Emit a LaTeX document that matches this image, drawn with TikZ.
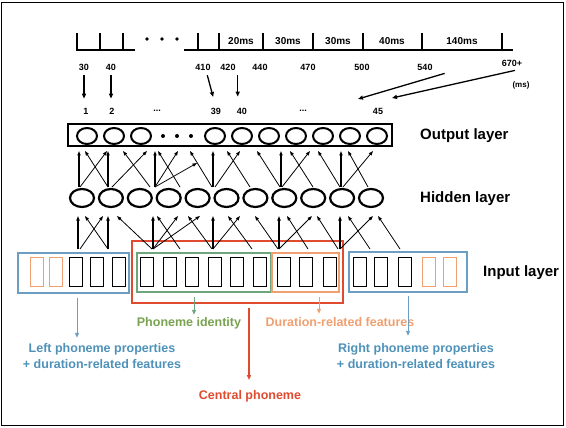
\documentclass[tikz,border=0pt]{standalone}
\usepackage{fontspec}
\setmainfont{Liberation Sans}
\usepackage{tikz}
\usetikzlibrary{positioning,calc,arrows.meta,shapes.geometric}

\definecolor{boxred}{HTML}{E04A2F}
\definecolor{boxblue}{HTML}{6C9EC4}
\definecolor{txtblue}{HTML}{4E91B9}
\definecolor{boxgreen}{HTML}{6EA57A}
\definecolor{txtgreen}{HTML}{79A251}
\definecolor{boxorange}{HTML}{F0A070}

\begin{document}
\begin{tikzpicture}[x=1pt,y=-1pt,
outnode/.style={ellipse, draw, line width=2pt, minimum width=20pt, minimum height=16pt, inner sep=0pt},
hidnode/.style={ellipse, draw, line width=2.2pt, minimum width=24pt, minimum height=18pt, inner sep=0pt},
featbox/.style={rectangle, draw=#1, line width=0.9pt, minimum width=13pt, minimum height=29pt, inner sep=0pt},
featbox/.default=black,
grpbox/.style={rectangle, draw=#1, line width=1.6pt, inner sep=0pt},
wire/.style={-{Triangle[length=4.5pt,width=3.2pt]}, line width=0.8pt},
numarrow/.style={-{Triangle[length=5pt,width=4pt]}, line width=1.3pt},
notearrow/.style={-{Triangle[length=5pt,width=4pt]}, line width=1pt, draw=#1, fill=#1},
tickline/.style={line width=2pt},
layerlbl/.style={font=\fontsize{15}{17}\selectfont\bfseries, anchor=west, inner sep=0pt},
numlbl/.style={font=\fontsize{9}{10}\selectfont\bfseries, inner sep=0pt},
msname/.style={font=\fontsize{10}{11}\selectfont\bfseries, inner sep=0pt},
notelbl/.style={font=\fontsize{12.5}{16}\selectfont\bfseries, text=#1, align=center, inner sep=0pt},
]
\useasboundingbox (0,0) rectangle (566,428);
\draw[line width=1pt] (1,3) rectangle (563,425);

%Time axis
\draw[tickline] (76,50) -- (135,50);
\draw[tickline] (184,50) -- (513,50);
\foreach \x in {77,100,123,198,219,263,313,363,422,502}
  \draw[tickline] (\x,33) -- (\x,50);
\foreach \x in {147,162,177}
  \fill (\x,39) circle (1.8pt);
\node[msname] (d1) at (241,41) {20ms};
\node[msname] (d2) at (288,41) {30ms};
\node[msname] (d3) at (338,41) {30ms};
\node[msname] (d4) at (392,41) {40ms};
\node[msname] (d5) at (462,41) {140ms};

%Times
\node[numlbl] (n30)  at (84,67)  {30};
\node[numlbl] (n40)  at (111,67) {40};
\node[numlbl] (n410) at (203,67) {410};
\node[numlbl] (n420) at (228,67) {420};
\node[numlbl] (n440) at (260,67) {440};
\node[numlbl] (n470) at (308,67) {470};
\node[numlbl] (n500) at (362,67) {500};
\node[numlbl] (n540) at (425,67) {540};
\node[numlbl] (n670) at (512,63) {670+};
\node[font=\fontsize{8}{9}\selectfont\bfseries, inner sep=0pt] (unit) at (521,85) {(ms)};

%Output indices
\node[numlbl] (l1)  at (86,111)  {1};
\node[numlbl] (l2)  at (112,111) {2};
\node[numlbl] (la)  at (157,111) {...};
\node[numlbl] (l39) at (216,111) {39};
\node[numlbl] (l40) at (242,111) {40};
\node[numlbl] (lb)  at (303,111) {...};
\node[numlbl] (l45) at (378,111) {45};
\coordinate (tipa) at (358,99);
\coordinate (tipb) at (392,98);

\draw[numarrow, shorten <=5pt, shorten >=9pt] (n30.south) -- (n30.south |- l1.north);
\draw[numarrow, shorten <=5pt, shorten >=9pt] (n40.south) -- (n40.south |- l2.north);
\draw[numarrow, shorten <=5pt, shorten >=11pt] ([xshift=3pt]n410.south) -- (l39.north);
\draw[numarrow, shorten <=5pt, shorten >=11pt] ([xshift=2pt]n420.south east) -- ([xshift=2pt]n420.south east |- l40.north);
\draw[numarrow] ([xshift=12pt,yshift=-3pt]n540.south east) -- (tipa);
\draw[numarrow] ([xshift=3pt,yshift=-4pt]n670.south) -- (tipb);

%Output layer
\node[draw, line width=2.5pt, minimum width=324pt, minimum height=22pt, inner sep=0pt] (outbox) at (230,135) {};
\foreach \x [count=\i] in {87,114,141,215,242,269,296,323,350,377}
  \node[outnode] (o\i) at (\x,136) {};
\foreach \x in {163,177,191}
  \fill (\x,136) circle (2pt);
\node[layerlbl] (outlbl) at (420,136) {Output layer};

%Hidden layer
\foreach \i in {1,...,11}
  \node[hidnode] (h\i) at ({82+28.9*(\i-1)},198) {};
\node[layerlbl] (hidlbl) at (420,199) {Hidden layer};

%Input layer
\node[grpbox=boxblue, minimum width=111pt, minimum height=40pt] (leftgrp) at (73.5,273) {};
\node[grpbox=boxred, line width=2pt, minimum width=211pt, minimum height=62pt] (redgrp) at (237.5,272) {};
\node[grpbox=boxgreen, minimum width=134pt, minimum height=39pt] (greengrp) at (204,272.5) {};
\node[grpbox=boxorange, minimum width=67pt, minimum height=39pt] (orangegrp) at (305.5,272.5) {};
\node[grpbox=boxblue, minimum width=118pt, minimum height=40pt] (rightgrp) at (408,272) {};
\foreach \x [count=\i] in {37,56} \node[featbox=boxorange] (lo\i) at (\x,271.5) {};
\foreach \x [count=\i] in {76,97,119} \node[featbox] (lc\i) at (\x,271.5) {};
\foreach \x [count=\i] in {147,169.5,192,214.5,237,259.5} \node[featbox] (gc\i) at (\x,271.5) {};
\foreach \x [count=\i] in {283.5,306,329.5} \node[featbox] (oc\i) at (\x,271.5) {};
\foreach \x [count=\i] in {359.5,381,404.5} \node[featbox] (rc\i) at (\x,271.5) {};
\foreach \x [count=\i] in {428.5,449.5} \node[featbox=boxorange] (ro\i) at (\x,271.5) {};
\node[layerlbl] (inlbl) at (483,273) {Input layer};

%Connections
\coordinate (upsrc) at (0,187);
\coordinate (uptip) at (0,151);
\coordinate (losrc) at (0,249);
\coordinate (lotip) at (0,216);
\foreach \s/\t in {80/107,108/85,112/147,150/123,155/178,180/158,212/190,215/240,250/227,280/257,282/310,313/290,340/318,343/373,368/348}
  \draw[wire] (upsrc -| \s,0) -- (uptip -| \t,0);
\foreach \s in {79,108,155,213,281,341}
  \draw[wire, line width=1.2pt] (upsrc -| \s,0) -- (uptip -| \s,0);
\draw[wire] (upsrc -| 155,0) -- (197,163);
\foreach \s/\t in {80/103,108/85,152/117,153/178,180/157,153/200,212/188,213/240,252/228,278/255,279/312,308/287,338/317,340/373,370/348,400/378}
  \draw[wire] (losrc -| \s,0) -- (lotip -| \t,0);
\foreach \s in {78,108,153,213,279,340}
  \draw[wire, line width=1.2pt] (losrc -| \s,0) -- (lotip -| \s,0);

%Notes
\node[notelbl=txtblue] (leftlbl) at (102,356) {Left phoneme properties\\+ duration-related features};
\node[notelbl=txtblue] (rightlbl) at (416,356) {Right phoneme properties\\+ duration-related features};
\node[notelbl=txtgreen] (idlbl) at (189,323) {Phoneme identity};
\node[notelbl=boxorange] (durlbl) at (340,322) {Duration-related features};
\node[notelbl=boxred] (centlbl) at (250,396) {Central phoneme};

\draw[notearrow=boxblue] ([xshift=3.5pt,yshift=-4pt]leftgrp.south) -- ++(0,40);
\draw[notearrow=boxgreen] ([xshift=-10pt,yshift=-4pt]greengrp.south) -- ++(0,18);
\draw[notearrow=boxorange] ([xshift=13.5pt,yshift=-4pt]orangegrp.south) -- ++(0,17);
\draw[notearrow=boxred, line width=1.5pt] ([xshift=11.5pt,yshift=-4pt]redgrp.south) -- ++(0,72);
\draw[notearrow=boxblue] ([yshift=-3pt]rightgrp.south) -- ++(0,40);
\end{tikzpicture}
\end{document}
